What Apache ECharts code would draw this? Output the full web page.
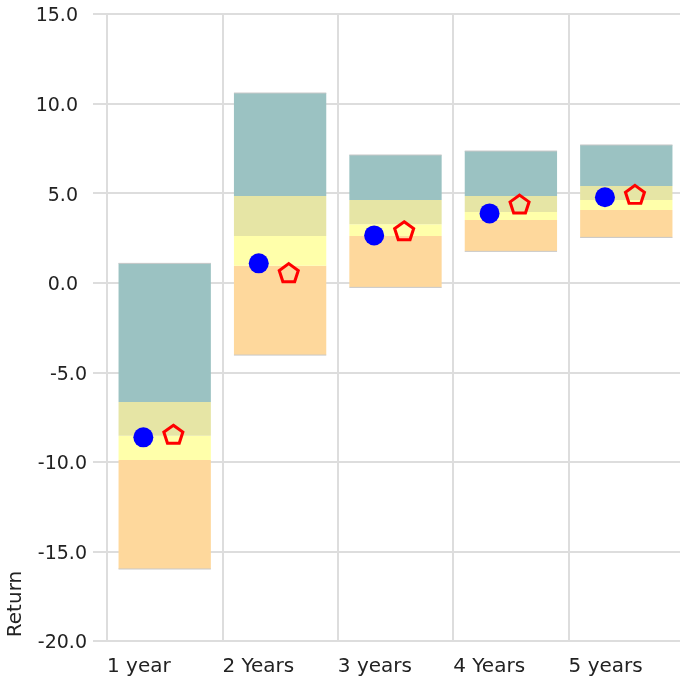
<!DOCTYPE html>
<html>
<head>
<meta charset="utf-8">
<script src="https://cdn.jsdelivr.net/npm/echarts@6/dist/echarts.min.js"></script>
<style>
  html, body { margin: 0; padding: 0; background: #ffffff; }
  #chart { width: 680px; height: 689px; }
</style>
</head>
<body>
<div id="chart"></div>
<script>
// Holding periods
const categories = ['1 year', '2 Years', '3 years', '4 Years', '5 years'];

// Percentile bands of the return distribution for each period
const p5  = [-15.98, -4.04, -0.26, 1.75, 2.53];
const p25 = [-9.90, 0.95, 2.61, 3.50, 4.06];
const p50 = [-8.54, 2.61, 3.26, 3.95, 4.62];
const p75 = [-6.66, 4.84, 4.62, 4.84, 5.40];
const p95 = [1.08, 10.59, 7.13, 7.35, 7.69];

// Fund return (blue dot) and benchmark return (red pentagon)
const fundReturn = [-8.63, 1.08, 2.64, 3.87, 4.77];
const benchReturn = [-8.46, 0.56, 2.90, 4.39, 4.93];

// Y axis ticks
const yMin = -20, yMax = 15, yStep = 5;

const FONT = 'DejaVu Sans';
const GRID_COLOR = '#dddddd';
const bandColors = ['#fed89c', '#ffffaa', '#e6e5a5', '#9bc2c2'];

const chart = echarts.init(document.getElementById('chart'), null, { renderer: 'canvas' });

const bandData = categories.map((c, i) => [i, p5[i], p25[i], p50[i], p75[i], p95[i]]);

function renderBands(params, api) {
  const i = api.value(0);
  const vals = [api.value(1), api.value(2), api.value(3), api.value(4), api.value(5)];
  const x0 = api.coord([i + 0.1, 0])[0];
  const x1 = api.coord([i + 0.9, 0])[0];
  const children = [];
  for (let k = 0; k < 4; k++) {
    const yb = api.coord([i, vals[k]])[1];
    const yt = api.coord([i, vals[k + 1]])[1];
    children.push({
      type: 'rect',
      shape: { x: x0, y: yt, width: x1 - x0, height: yb - yt },
      style: { fill: bandColors[k] }
    });
  }
  const yTop = api.coord([i, vals[4]])[1];
  const yBot = api.coord([i, vals[0]])[1];
  children.push({
    type: 'line',
    shape: { x1: x0, y1: yTop, x2: x1, y2: yTop },
    style: { stroke: '#c8c8c8', lineWidth: 1 }
  });
  children.push({
    type: 'line',
    shape: { x1: x0, y1: yBot, x2: x1, y2: yBot },
    style: { stroke: '#c8c8c8', lineWidth: 1 }
  });
  return { type: 'group', children: children };
}

const pentagon = 'path://M0,-1L0.951,-0.309L0.588,0.809L-0.588,0.809L-0.951,-0.309Z';

const option = {
  backgroundColor: '#ffffff',
  animation: false,
  grid: { left: 107, width: 577, top: 14, bottom: 48, containLabel: false, outerBoundsMode: 'none' },
  xAxis: {
    type: 'value',
    min: 0,
    max: categories.length,
    interval: 1,
    axisLine: { show: false },
    axisTick: { show: true, inside: false, length: 48, lineStyle: { color: GRID_COLOR, width: 2 } },
    splitLine: { show: true, lineStyle: { color: GRID_COLOR, width: 2 } },
    axisLabel: {
      show: true,
      align: 'left',
      margin: 16,
      fontFamily: FONT,
      fontSize: 20,
      color: '#222222',
      showMinLabel: true,
      showMaxLabel: true,
      formatter: function (v) { return categories[v] || ''; }
    }
  },
  yAxis: {
    type: 'value',
    min: yMin,
    max: yMax,
    interval: yStep,
    axisLine: { show: false },
    axisTick: { show: true, inside: false, length: 14, lineStyle: { color: GRID_COLOR, width: 2 } },
    splitLine: { show: true, lineStyle: { color: GRID_COLOR, width: 2 } },
    axisLabel: {
      margin: 20,
      fontFamily: FONT,
      fontSize: 19,
      color: '#222222',
      padding: [5, 0, 0, 0],
      formatter: function (v) {
        const s = v.toFixed(1);
        return v < 0 ? s : s + '{sp|\u00a0}';
      },
      rich: { sp: { width: 9, fontSize: 19, fontFamily: FONT } }
    }
  },
  graphic: [{
    type: 'text',
    x: 16,
    y: 604,
    rotation: Math.PI / 2,
    style: {
      text: 'Return',
      font: '20px "DejaVu Sans"',
      fill: '#222222',
      align: 'center',
      verticalAlign: 'middle'
    }
  }],
  series: [
    {
      type: 'custom',
      renderItem: renderBands,
      data: bandData,
      encode: { x: 0, y: [1, 2, 3, 4, 5] },
      z: 2
    },
    {
      type: 'scatter',
      data: fundReturn.map((v, i) => [i + 0.315, v]),
      symbol: 'circle',
      symbolSize: 20,
      itemStyle: { color: '#0000ff', opacity: 1 },
      z: 3
    },
    {
      type: 'scatter',
      data: benchReturn.map((v, i) => [i + 0.575, v]),
      symbol: pentagon,
      symbolSize: [19, 18],
      itemStyle: { color: 'rgba(0,0,0,0)', borderColor: '#ff0000', borderWidth: 3, opacity: 1 },
      z: 4
    }
  ]
};

chart.setOption(option);
</script>
</body>
</html>
